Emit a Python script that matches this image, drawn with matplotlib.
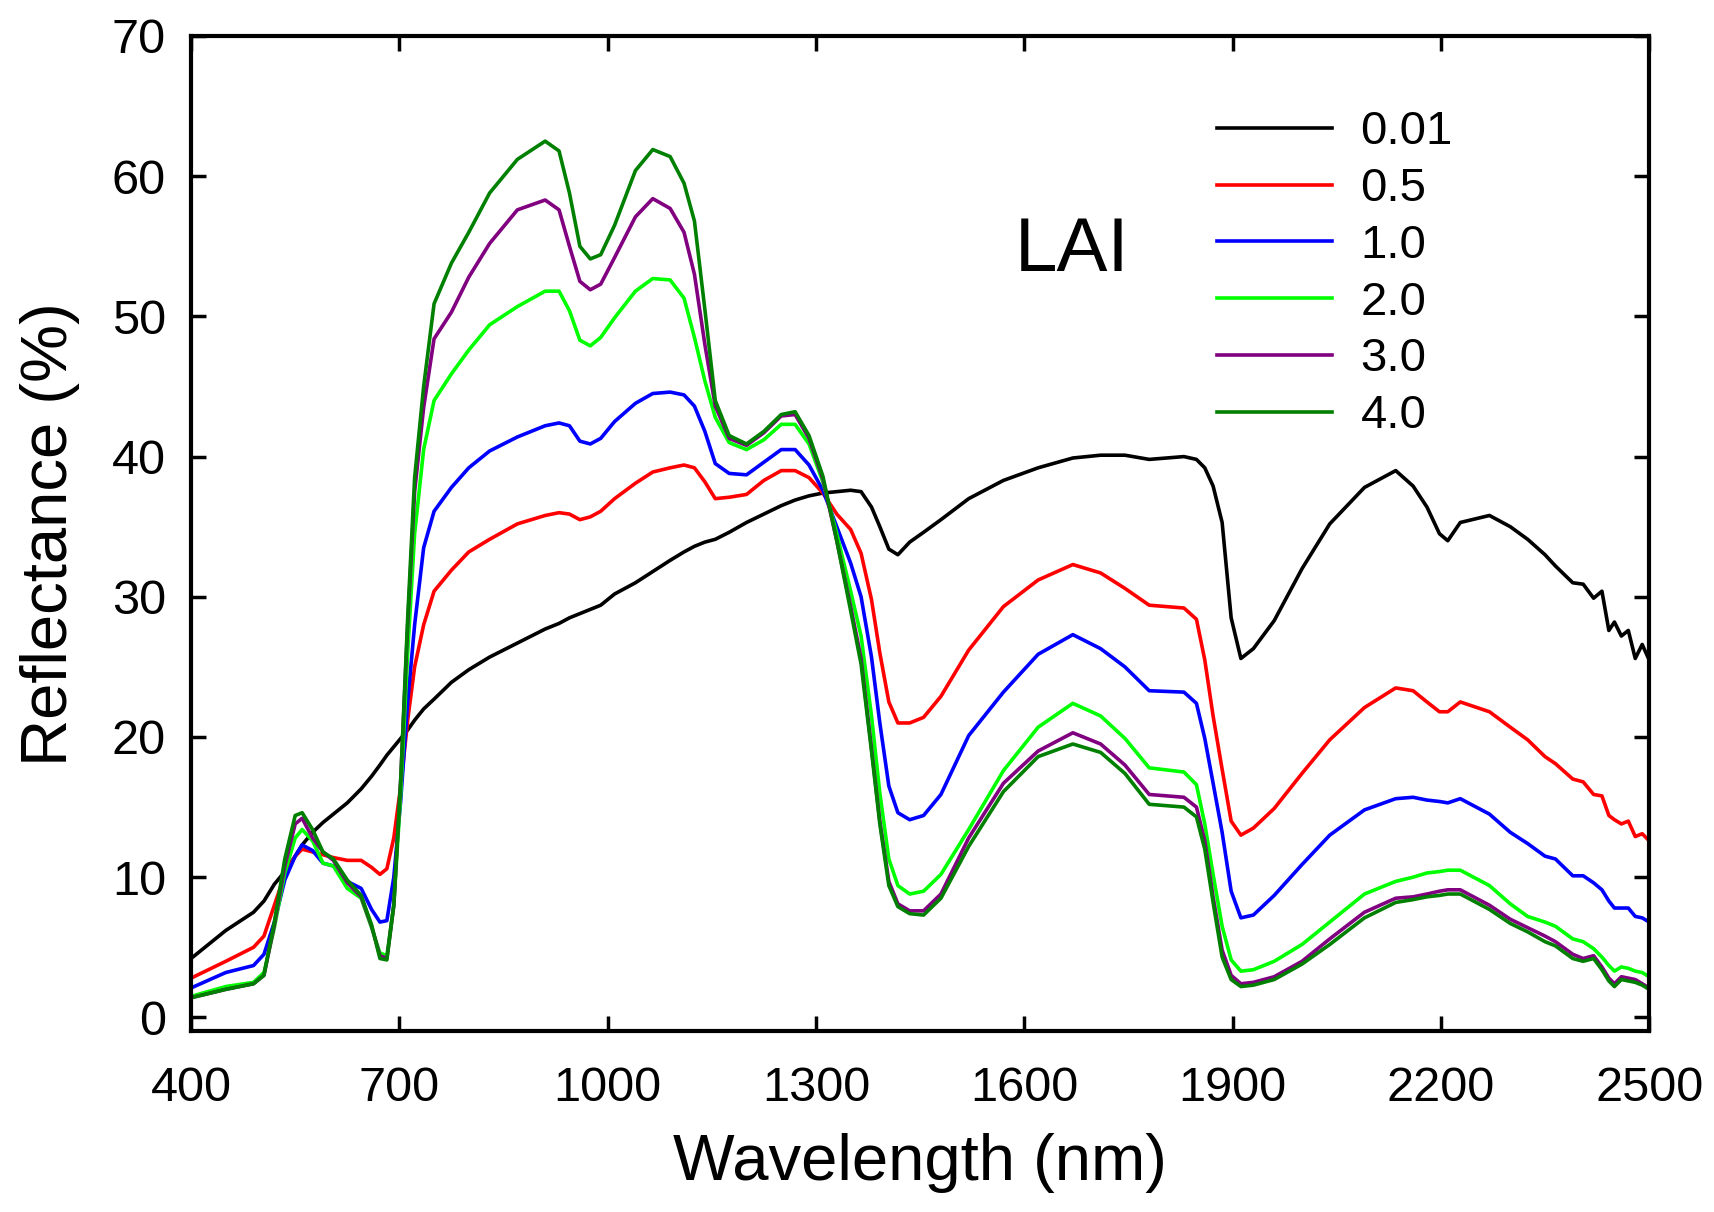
import matplotlib
matplotlib.use('Agg')
import matplotlib.pyplot as plt
import numpy as np

plt.rcParams['font.family'] = ['Liberation Sans', 'DejaVu Sans']

# wavelength grid (nm)
wavelength = [400, 450, 490, 505, 520, 535, 550, 560, 575, 590, 605, 625, 645, 660, 672, 682, 692,
              702, 712, 722, 735, 750, 775, 800, 830, 870, 910, 930, 945, 960, 975, 990, 1010,
              1040, 1065, 1090, 1110, 1125, 1140, 1155, 1175, 1200, 1225, 1250, 1270, 1290, 1310,
              1330, 1350, 1365, 1380, 1392, 1405, 1418, 1435, 1455, 1480, 1520, 1570, 1620, 1670,
              1710, 1745, 1780, 1830, 1848, 1860, 1872, 1885, 1898, 1912, 1930, 1960, 2000, 2040,
              2090, 2135, 2160, 2180, 2198, 2210, 2228, 2270, 2300, 2325, 2350, 2365, 2390, 2405,
              2420, 2432, 2442, 2450, 2460, 2470, 2480, 2490, 2500]

# reflectance (%) for each LAI
lai_001 = [4.2, 6.2, 7.5, 8.3, 9.5, 10.4, 11.5, 12.3, 13.2, 13.9, 14.5, 15.3, 16.3, 17.2, 18.0, 18.7, 19.3,
           19.9, 20.5, 21.2, 22.0, 22.7, 23.9, 24.8, 25.7, 26.7, 27.7, 28.1, 28.5, 28.8, 29.1, 29.4, 30.2,
           31.0, 31.8, 32.6, 33.2, 33.6, 33.9, 34.1, 34.6, 35.3, 35.9, 36.5, 36.9, 37.2, 37.4,
           37.5, 37.6, 37.5, 36.4, 35.0, 33.4, 33.0, 33.9, 34.6, 35.5, 37.0, 38.3, 39.2, 39.9,
           40.1, 40.1, 39.8, 40.0, 39.8, 39.2, 37.9, 35.3, 28.5, 25.6, 26.3, 28.3, 32.0, 35.2,
           37.8, 39.0, 37.9, 36.4, 34.5, 34.0, 35.3, 35.8, 35.0, 34.1, 33.0, 32.2, 31.0, 30.9,
           29.9, 30.4, 27.6, 28.2, 27.2, 27.6, 25.6, 26.6, 25.5]
lai_05 = [2.8, 4.0, 5.0, 5.8, 8.0, 10.2, 11.5, 12.0, 11.8, 11.6, 11.4, 11.2, 11.2, 10.7, 10.2, 10.6, 12.8,
          16.5, 21.2, 25.0, 28.0, 30.4, 31.9, 33.2, 34.1, 35.2, 35.8, 36.0, 35.9, 35.5, 35.7, 36.1, 37.0,
          38.1, 38.9, 39.2, 39.4, 39.2, 38.2, 37.0, 37.1, 37.3, 38.3, 39.0, 39.0, 38.5, 37.4,
          35.9, 34.8, 33.1, 29.8, 26.0, 22.5, 21.0, 21.0, 21.4, 22.9, 26.2, 29.3, 31.2, 32.3,
          31.7, 30.6, 29.4, 29.2, 28.4, 25.5, 21.5, 17.7, 14.0, 13.0, 13.5, 14.9, 17.4, 19.8,
          22.1, 23.5, 23.3, 22.5, 21.8, 21.8, 22.5, 21.8, 20.7, 19.8, 18.6, 18.1, 17.0, 16.8,
          15.9, 15.8, 14.4, 14.1, 13.8, 14.0, 12.9, 13.1, 12.6]
lai_10 = [2.1, 3.2, 3.7, 4.5, 6.8, 9.8, 11.5, 12.3, 11.9, 11.0, 10.8, 9.7, 9.2, 7.7, 6.8, 6.9, 10.0,
          15.5, 22.5, 28.0, 33.5, 36.1, 37.8, 39.2, 40.4, 41.4, 42.2, 42.4, 42.2, 41.1, 40.9, 41.3, 42.5,
          43.8, 44.5, 44.6, 44.4, 43.6, 41.8, 39.5, 38.8, 38.7, 39.6, 40.5, 40.5, 39.4, 37.6,
          35.0, 32.4, 30.0, 25.7, 21.0, 16.5, 14.6, 14.1, 14.4, 15.9, 20.1, 23.2, 25.9, 27.3,
          26.3, 25.0, 23.3, 23.2, 22.4, 19.9, 16.7, 13.2, 9.0, 7.1, 7.3, 8.7, 10.9, 13.0,
          14.8, 15.6, 15.7, 15.5, 15.4, 15.3, 15.6, 14.5, 13.2, 12.4, 11.5, 11.3, 10.1, 10.1,
          9.6, 9.1, 8.3, 7.8, 7.8, 7.8, 7.2, 7.1, 6.8]
lai_20 = [1.5, 2.2, 2.5, 3.2, 6.4, 10.3, 12.8, 13.4, 12.6, 11.0, 10.8, 9.2, 8.5, 6.4, 4.6, 4.4, 8.0,
          16.0, 26.0, 34.5, 40.5, 44.0, 45.9, 47.6, 49.4, 50.7, 51.8, 51.8, 50.4, 48.3, 47.9, 48.5, 49.9,
          51.8, 52.7, 52.6, 51.3, 48.5, 45.4, 42.8, 41.0, 40.5, 41.2, 42.3, 42.3, 40.9, 38.2,
          34.5, 30.4, 27.2, 21.5, 16.0, 11.3, 9.4, 8.8, 9.0, 10.2, 13.4, 17.6, 20.7, 22.4,
          21.5, 19.9, 17.8, 17.5, 16.6, 13.8, 10.2, 6.5, 4.1, 3.3, 3.4, 4.0, 5.2, 6.8,
          8.8, 9.7, 10.0, 10.3, 10.4, 10.5, 10.5, 9.4, 8.1, 7.2, 6.8, 6.5, 5.6, 5.4,
          4.9, 4.3, 3.7, 3.3, 3.6, 3.5, 3.3, 3.2, 2.9]
lai_30 = [1.4, 2.0, 2.4, 3.0, 6.6, 10.8, 13.8, 14.2, 12.8, 11.8, 11.2, 9.6, 8.6, 6.5, 4.4, 4.2, 8.0,
          17.0, 28.0, 37.5, 43.5, 48.4, 50.3, 52.8, 55.2, 57.6, 58.3, 57.6, 55.0, 52.5, 51.9, 52.3, 54.2,
          57.1, 58.4, 57.7, 56.0, 53.0, 48.0, 43.6, 41.3, 40.8, 41.7, 42.9, 43.0, 41.3, 38.4,
          34.0, 29.3, 25.6, 19.2, 14.0, 9.7, 8.1, 7.6, 7.6, 8.8, 12.8, 16.7, 19.0, 20.3,
          19.5, 18.0, 15.9, 15.7, 15.0, 12.6, 8.6, 4.8, 3.0, 2.4, 2.5, 2.9, 4.0, 5.6,
          7.5, 8.5, 8.6, 8.8, 9.0, 9.1, 9.1, 8.0, 7.0, 6.4, 5.8, 5.4, 4.5, 4.2,
          4.4, 3.6, 2.8, 2.4, 2.9, 2.8, 2.7, 2.4, 2.1]
lai_40 = [1.4, 2.0, 2.4, 3.0, 6.8, 11.3, 14.4, 14.6, 13.4, 11.8, 11.3, 9.8, 8.7, 6.6, 4.2, 4.1, 8.0,
          17.0, 28.5, 38.5, 45.0, 50.9, 53.8, 56.0, 58.8, 61.2, 62.5, 61.8, 58.8, 55.0, 54.1, 54.4, 56.5,
          60.4, 61.9, 61.4, 59.5, 56.8, 50.5, 44.0, 41.5, 40.9, 41.8, 43.0, 43.2, 41.5, 38.6,
          34.0, 29.0, 25.2, 19.0, 13.8, 9.4, 7.9, 7.4, 7.3, 8.5, 12.2, 16.1, 18.6, 19.5,
          18.9, 17.4, 15.2, 15.0, 14.3, 12.0, 8.2, 4.3, 2.7, 2.2, 2.3, 2.7, 3.8, 5.2,
          7.1, 8.2, 8.4, 8.6, 8.7, 8.8, 8.8, 7.7, 6.7, 6.1, 5.4, 5.1, 4.2, 4.0,
          4.2, 3.4, 2.6, 2.2, 2.7, 2.6, 2.5, 2.3, 2.0]

labels = ['0.01', '0.5', '1.0', '2.0', '3.0', '4.0']
colors = ['black', '#ff0000', '#0000ff', '#00ff00', '#800080', '#008000']
series = [lai_001, lai_05, lai_10, lai_20, lai_30, lai_40]

fig = plt.figure(figsize=(17.15, 12.12), dpi=100)
ax = fig.add_axes([0.1114, 0.149, 0.8502, 0.8213])

for vals, lab, col in zip(series, labels, colors):
    ax.plot(wavelength, vals, color=col, linewidth=2.6, label=lab)

ax.set_xlim(400, 2500)
ax.set_ylim(-1, 70)
ax.set_xticks(np.arange(400, 2501, 300))
ax.set_yticks(np.arange(0, 71, 10))

for sp in ax.spines.values():
    sp.set_linewidth(3)
ax.tick_params(axis='both', which='major', direction='in', top=True, right=True,
               length=11, width=2.5, labelsize=35)
ax.tick_params(axis='x', pad=25)
ax.tick_params(axis='y', pad=18)

ax.set_xlabel('Wavelength (nm)', fontsize=47, va='center')
ax.xaxis.set_label_coords(0.5, -0.1317)
ax.set_ylabel('Reflectance (%)', fontsize=47, va='center')
ax.yaxis.set_label_coords(-0.097, 0.5)

ax.text(1669, 54.6, 'LAI', fontsize=55, ha='center', va='center')

ax.legend(loc='upper left', bbox_to_anchor=(0.7096, 0.909), bbox_transform=fig.transFigure,
          frameon=False, fontsize=34, handlelength=2.44, handletextpad=0.6,
          labelspacing=0.27, borderpad=0, borderaxespad=0)

fig.savefig('out.png', dpi=100)
